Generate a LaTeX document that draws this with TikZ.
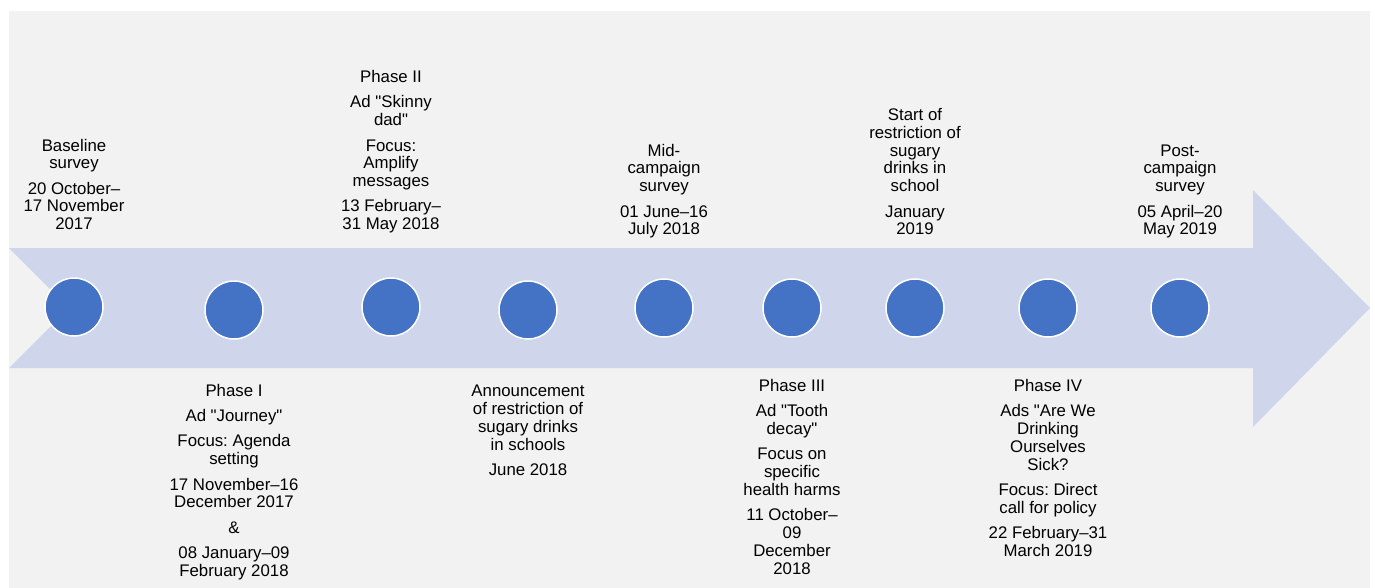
\documentclass[tikz,border=0pt]{standalone}
\usepackage{fontspec}
\setmainfont{Liberation Sans}[Ligatures=TeXOff]
\usetikzlibrary{positioning}
\definecolor{bandblue}{HTML}{CFD5EA}
\definecolor{dotblue}{HTML}{4472C4}
\definecolor{panelgray}{HTML}{F2F2F2}
\tikzset{
  dot/.style={circle, fill=dotblue, draw=white, line width=1.5pt, minimum size=58pt, inner sep=0pt},
  lbl/.style={align=center, inner sep=0pt, font=\fontsize{16.8}{17.8}\selectfont, text depth=0pt},
  uplbl/.style={lbl, anchor=south},
  downlbl/.style={lbl, anchor=north},
}
\newcommand{\gap}{\\[7.5pt]}
\frenchspacing
\begin{document}
\begin{tikzpicture}[x=1pt,y=-1pt]
    \useasboundingbox (0,0) rectangle (1375,588);
    \fill[panelgray] (9,11) rectangle (1370,588);
    % timeline arrow
    \fill[bandblue] (9,248) -- (1253,248) -- (1253,190) -- (1370,308)
        -- (1253,427) -- (1253,368) -- (9,368) -- (69,308) -- cycle;
    % milestones
    \foreach \x/\y [count=\i] in {74/307,234/310,391/307,528/310,664/308,792/308,915/308,1048/308,1180/308} {
        \node[dot] (m\i) at (\x,\y) {};
    }
    % labels above the arrow
    \node[uplbl] (baseline) at (74,230) {Baseline\\survey\gap 20 October–\\17 November\\2017};
    \node[uplbl] (phasetwo) at (391,230) {Phase II\gap Ad "Skinny\\dad"\gap Focus:\\Amplify\\messages\gap 13 February–\\31 May 2018};
    \node[uplbl] (midsurvey) at (664,235) {Mid-\\campaign\\survey\gap 01 June–16\\July 2018};
    \node[uplbl] (startban) at (915,235) {Start of\\restriction of\\sugary\\drinks in\\school\gap January\\2019};
    \node[uplbl] (postsurvey) at (1180,235) {Post-\\campaign\\survey\gap 05 April–20\\May 2019};
    % labels below the arrow
    \node[downlbl] (phaseone) at (234,384) {Phase I\gap Ad "Journey"\gap Focus: Agenda\\setting\gap 17 November–16\\December 2017\gap \&\gap 08 January–09\\February 2018};
    \node[downlbl] (announce) at (528,385) {Announcement\\of restriction of\\sugary drinks\\in schools\gap June 2018};
    \node[downlbl] (phasethree) at (792,379) {Phase III\gap Ad "Tooth\\decay"\gap Focus on\\specific\\health harms\gap 11 October–\\09\\December\\2018};
    \node[downlbl] (phasefour) at (1048,379) {Phase IV\gap Ads "Are We\\Drinking\\Ourselves\\Sick?\gap Focus: Direct\\call for policy\gap 22 February–31\\March 2019};
\end{tikzpicture}
\end{document}
